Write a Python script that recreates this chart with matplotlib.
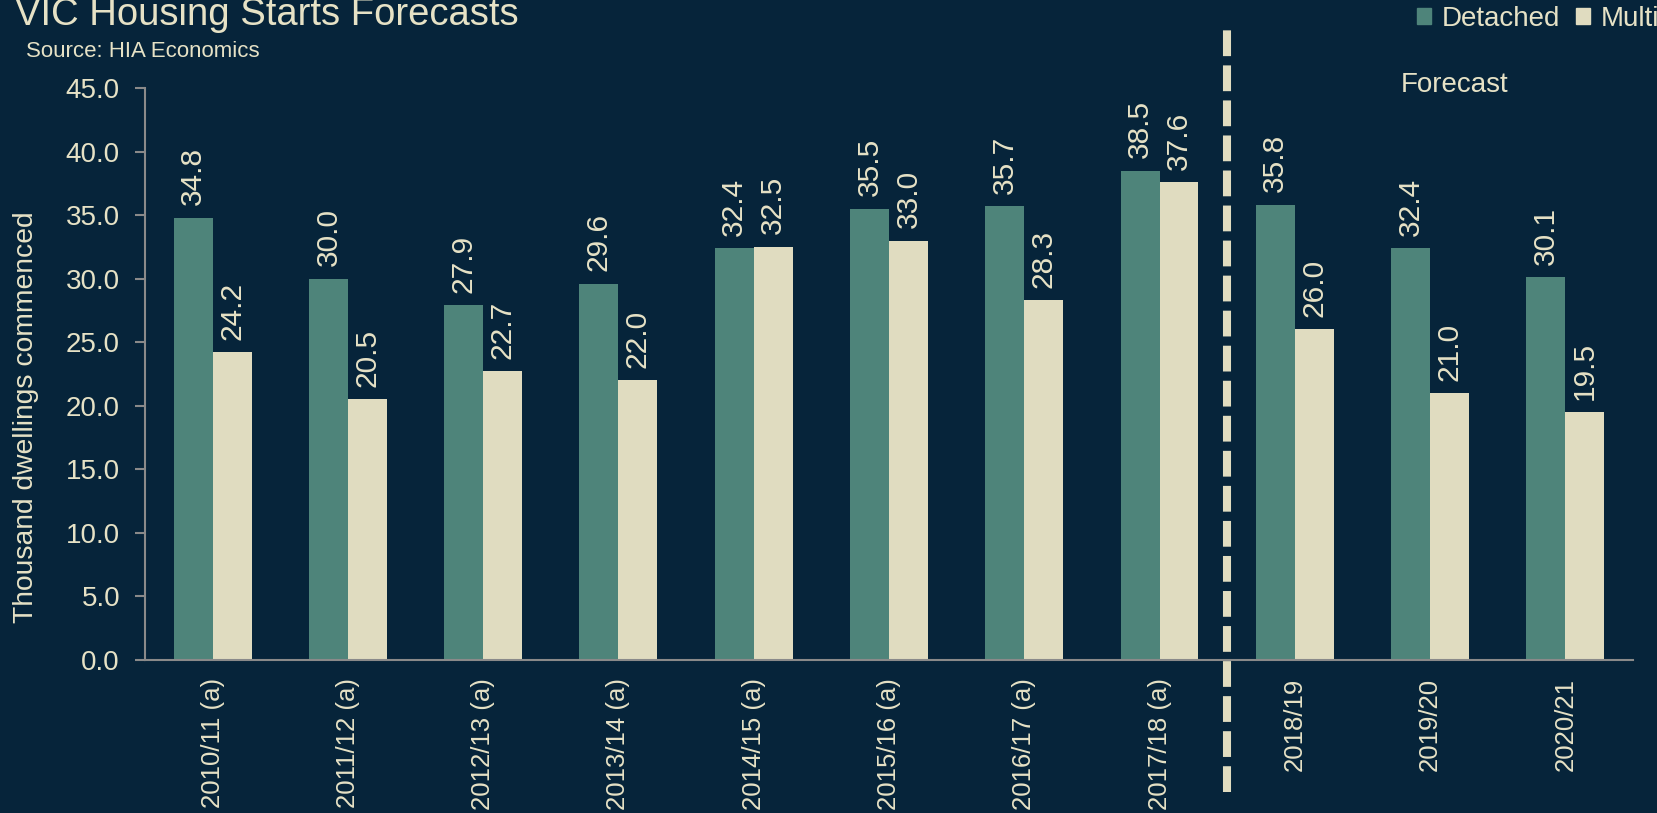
import numpy as np
import matplotlib
matplotlib.use('Agg')
import matplotlib.pyplot as plt
from matplotlib.patches import Patch

# data
years = ['2010/11 (a)', '2011/12 (a)', '2012/13 (a)', '2013/14 (a)', '2014/15 (a)',
         '2015/16 (a)', '2016/17 (a)', '2017/18 (a)', '2018/19', '2019/20', '2020/21']
detached = [34.8, 30.0, 27.9, 29.6, 32.4, 35.5, 35.7, 38.5, 35.8, 32.4, 30.1]
multi = [24.2, 20.5, 22.7, 22.0, 32.5, 33.0, 28.3, 37.6, 26.0, 21.0, 19.5]
yticks = np.arange(0, 46, 5)

bg = '#06243A'
teal = '#4E847A'
cream = '#E0DCC0'
txt = '#E6E2C6'

plt.rcParams['font.family'] = ['Liberation Sans', 'DejaVu Sans']

fig = plt.figure(figsize=(16.57, 8.13), dpi=100, facecolor=bg)
ax = fig.add_axes([0.0875, 0.1882, 0.898, 0.7036], facecolor=bg)

x = np.arange(len(years))
w = 0.288
b1 = ax.bar(x - w / 2, detached, w, color=teal, label='Detached')
b2 = ax.bar(x + w / 2, multi, w, color=cream, label='Multi')

for bars, vals in [(b1, detached), (b2, multi)]:
    for r, v in zip(bars, vals):
        ax.annotate(f'{v:.1f}', (r.get_x() + r.get_width() / 2, v),
                    xytext=(0, 9), textcoords='offset points',
                    rotation=90, ha='center', va='bottom',
                    fontsize=21.5, color=txt)

ax.set_xlim(-0.5, len(years) - 0.5)
ax.set_ylim(0, 45)
ax.set_yticks(yticks)
ax.set_yticklabels([f'{t:.1f}' for t in yticks])
ax.set_xticks(x)
ax.set_xticklabels(years, rotation=90)

for s in ['top', 'right']:
    ax.spines[s].set_visible(False)
for s in ['left', 'bottom']:
    ax.spines[s].set_color('#8A8A8A')
    ax.spines[s].set_linewidth(1.5)
ax.tick_params(axis='y', colors='#8A8A8A', labelcolor=txt, labelsize=20,
               length=7, width=1.5, pad=11)
ax.tick_params(axis='x', labelcolor=txt, labelsize=18.5, length=0, pad=13)

# forecast divider
ln, = ax.plot([7.5, 7.5], [-0.231, 1.105], transform=ax.get_xaxis_transform(),
              clip_on=False, color=cream, lw=5.8, solid_capstyle='butt')
ln.set_dashes((3.2, 1.15))
ln.set_dash_capstyle('butt')

ax.text(1455 / 1657, 1 - 85 / 813, 'Forecast', transform=fig.transFigure,
        ha='center', va='center', fontsize=20, color=txt)

fig.text(15 / 1657, 1 - 25 / 813, 'VIC Housing Starts Forecasts', ha='left',
         va='baseline', fontsize=27.5, color=txt)
fig.text(26 / 1657, 1 - 57 / 813, 'Source: HIA Economics', ha='left',
         va='baseline', fontsize=16, color=txt)
fig.text(26 / 1657, 1 - 417 / 813, 'Thousand dwellings commenced', rotation=90,
         ha='center', va='center', fontsize=20.3, color=txt)

handles = [Patch(color=teal, label='Detached'), Patch(color=cream, label='Multi')]
fig.legend(handles=handles, loc='center left', bbox_to_anchor=(1417 / 1657, 1 - 19 / 813),
           ncol=2, frameon=False, fontsize=20, labelcolor=txt,
           handlelength=0.5, handleheight=0.5, handletextpad=0.4,
           columnspacing=0.55, borderpad=0, borderaxespad=0)

fig.savefig('out.png', dpi=100, facecolor=bg)
